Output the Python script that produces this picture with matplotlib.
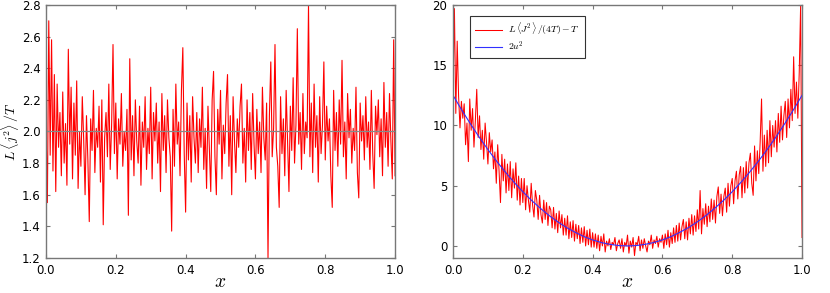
import matplotlib.pyplot as plt
import numpy as np

plt.rcParams["mathtext.fontset"] = "cm"

# left panel: L<j^2>/T sampled on an even grid in x
left_vals = [
    2.05, 1.55, 2.70, 1.85, 2.58, 1.75, 2.36, 1.62, 2.30, 1.90,
    2.12, 1.72, 2.25, 1.80, 2.05, 1.66, 2.52, 1.92, 2.28, 1.70,
    2.18, 1.85, 2.32, 1.64, 2.00, 1.78, 2.22, 1.95, 1.60, 2.10,
    1.82, 1.43, 2.08, 1.88, 2.26, 1.74, 2.02, 1.90, 2.16, 1.68,
    2.20, 1.41, 1.96, 2.12, 1.84, 2.30, 1.76, 2.04, 2.55, 1.86,
    2.18, 1.70, 2.08, 1.92, 2.24, 1.78, 2.00, 1.88, 2.14, 1.47,
    2.46, 1.82, 2.10, 1.72, 2.20, 1.94, 1.80, 2.16, 1.66, 2.06,
    1.90, 2.22, 1.76, 2.02, 1.86, 2.28, 1.70, 2.12, 1.94, 2.18,
    1.80, 2.06, 1.62, 2.24, 1.88, 2.10, 1.74, 2.20, 1.96, 1.84,
    1.37, 2.14, 1.78, 2.30, 1.92, 2.06, 1.72, 2.26, 2.53, 1.86,
    1.49, 2.18, 1.82, 2.10, 1.68, 2.22, 1.96, 1.80, 2.12, 1.74,
    2.08, 1.90, 2.28, 1.76, 2.02, 1.64, 2.16, 1.88, 1.62, 2.20,
    2.38, 1.84, 1.60, 2.14, 1.92, 2.26, 1.70, 2.04, 1.86, 2.18,
    2.36, 1.78, 2.10, 1.60, 2.22, 1.94, 1.74, 2.08, 1.90, 2.16,
    2.30, 1.80, 2.02, 1.68, 2.20, 1.88, 2.12, 1.76, 2.24, 1.92,
    1.70, 2.14, 1.86, 2.06, 1.74, 2.28, 1.96, 1.82, 2.18, 1.20,
    2.10, 2.44, 1.84, 2.02, 2.55, 1.90, 1.78, 1.52, 2.22, 1.86,
    2.08, 1.72, 2.26, 1.94, 1.62, 2.16, 1.88, 2.34, 1.80, 2.04,
    2.65, 1.92, 2.12, 1.76, 2.24, 1.86, 2.06, 1.96, 2.80, 1.84,
    2.18, 1.74, 2.30, 1.90, 2.10, 1.68, 2.22, 1.86, 2.04, 2.44,
    1.82, 2.16, 1.94, 2.08, 1.72, 1.52, 2.26, 1.88, 2.12, 1.78,
    2.20, 1.92, 2.45, 1.84, 2.06, 1.70, 2.24, 1.96, 2.14, 1.80,
    2.02, 1.88, 2.28, 1.74, 1.58, 2.18, 1.94, 2.10, 1.82, 2.22,
    1.90, 2.06, 1.76, 2.26, 1.86, 1.64, 2.16, 1.98, 2.20, 1.84,
    2.08, 1.72, 2.31, 1.90, 2.12, 1.78, 2.24, 1.94, 1.70, 2.58,
    1.72,
]
left_ref = 2.0

# right panel: L<J^2>/(4T) - T on the same grid
right_vals = [
    13.0, 19.7, 11.0, 17.0, 12.4, 9.8, 12.0, 10.6, 11.8, 8.4,
    10.2, 7.0, 12.2, 9.6, 11.4, 8.2, 10.4, 13.0, 9.0, 10.8,
    8.0, 9.6, 7.2, 10.2, 8.6, 6.8, 9.4, 7.8, 8.8, 6.4,
    7.8, 5.2, 8.4, 6.2, 3.6, 7.6, 5.4, 7.2, 4.4, 6.8,
    4.6, 7.0, 4.0, 6.4, 4.8, 6.9, 3.8, 5.8, 3.4, 5.6,
    3.6, 5.6, 3.0, 5.0, 3.8, 2.8, 5.2, 3.4, 2.4, 4.6,
    3.8, 2.2, 4.2, 2.6, 1.9, 3.8, 2.2, 3.6, 1.7, 3.3,
    3.0, 1.5, 3.2, 1.4, 2.7, 1.1, 2.9, 1.5, 2.6, 0.9,
    2.3, 0.9, 2.5, 0.6, 2.0, 0.7, 2.1, 0.4, 1.8, 0.6,
    1.7, 0.2, 1.5, 0.3, 1.6, 0.0, 1.3, 0.1, 1.4, -0.1,
    1.1, -0.1, 1.0, -0.2, 0.9, -0.4, 0.8, 0.0, 1.0, -0.5,
    0.4, 0.0, 0.6, -0.3, 0.3, 0.1, 0.7, -0.4, 0.2, 0.5,
    -0.2, 0.6, -0.5, 0.3, 0.0, 0.9, -0.6, 0.4, -0.1, 0.7,
    -0.8, 0.3, 0.1, 0.8, -0.4, 0.5, -0.2, 0.6, 0.0, -0.5,
    0.4, 0.1, 0.9, -0.2, 0.5, 0.2, 0.8, -0.1, 0.6, 0.3,
    0.9, -0.2, 1.0, 0.1, 1.3, -0.1, 1.1, 0.2, 1.5, 0.3,
    1.7, 0.4, 1.9, 0.5, 1.6, 2.2, 0.6, 2.0, 0.5, 2.3,
    1.0, 2.6, 0.9, 2.5, 1.2, 3.0, 1.4, 4.6, 1.0, 3.1,
    1.8, 3.5, 1.6, 3.3, 2.0, 3.9, 2.2, 3.8, 1.9, 4.1,
    4.9, 2.7, 4.3, 2.5, 4.1, 4.8, 2.8, 5.2, 3.3, 5.0,
    5.6, 3.5, 5.4, 6.2, 3.9, 5.9, 6.6, 4.0, 6.5, 4.4,
    7.0, 4.8, 6.9, 7.7, 5.2, 4.2, 8.3, 5.4, 7.9, 6.0,
    8.6, 12.2, 6.2, 9.2, 6.6, 9.6, 6.9, 10.4, 7.4, 10.0,
    8.2, 10.4, 7.8, 11.0, 8.6, 11.6, 8.8, 10.8, 12.0, 9.0,
    12.2, 9.8, 13.0, 10.4, 15.7, 11.0, 13.6, 10.6, 14.4, 20.0,
    0.7,
]

# fitted curve 2u^2, read at x = 0, 0.025, ..., 1
curve_x = [0.0, 0.025, 0.05, 0.075, 0.1, 0.125, 0.15, 0.175, 0.2, 0.225,
           0.25, 0.275, 0.3, 0.325, 0.35, 0.375, 0.4, 0.425, 0.45, 0.475,
           0.5, 0.525, 0.55, 0.575, 0.6, 0.625, 0.65, 0.675, 0.7, 0.725,
           0.75, 0.775, 0.8, 0.825, 0.85, 0.875, 0.9, 0.925, 0.95, 0.975, 1.0]
curve_y = [12.5, 11.28, 10.13, 9.03, 8.0, 7.03, 6.13, 5.28, 4.5, 3.78,
           3.13, 2.53, 2.0, 1.53, 1.13, 0.78, 0.5, 0.28, 0.13, 0.03,
           0.0, 0.03, 0.13, 0.28, 0.5, 0.78, 1.13, 1.53, 2.0, 2.53,
           3.13, 3.78, 4.5, 5.28, 6.13, 7.03, 8.0, 9.03, 10.13, 11.28, 12.5]

x_grid = np.linspace(0.0, 1.0, len(left_vals))

fig = plt.figure(figsize=(8.3, 2.93), dpi=100)
ax1 = fig.add_axes([0.0554, 0.1195, 0.4206, 0.8635])
ax2 = fig.add_axes([0.5458, 0.1195, 0.4205, 0.8635])

for ax in (ax1, ax2):
    for sp in ax.spines.values():
        sp.set_color("#777777")
        sp.set_linewidth(1.0)
    ax.tick_params(direction="in", top=True, right=True, labelsize=8.5,
                   color="#777777", length=3, pad=4)
    ax.set_xlim(0, 1)
    ax.set_xticks([0.0, 0.2, 0.4, 0.6, 0.8, 1.0])
    ax.set_xticklabels(["0.0", "0.2", "0.4", "0.6", "0.8", "1.0"])
    ax.set_xlabel("$x$", fontsize=14, labelpad=-3)

ax1.plot(x_grid, left_vals, color="#ff0000", lw=0.8)
ax1.axhline(left_ref, color="#888888", lw=0.9)
ax1.set_ylim(1.2, 2.8)
ax1.set_yticks(np.arange(1.2, 2.81, 0.2))
ax1.set_yticklabels([f"{v:.1f}" for v in np.arange(1.2, 2.81, 0.2)])
ax1.set_ylabel(r"$L\,\langle j^2\rangle\,/T$", fontsize=10)
ax1.yaxis.set_label_coords(-0.071, 0.5)

ax2.plot(x_grid, right_vals, color="#ff0000", lw=0.75,
         label=r"$L\,\langle J^2\rangle\,/(4T)-T$")
ax2.plot(curve_x, curve_y, color="#3030ff", lw=0.8, label=r"$2u^2$")
ax2.set_ylim(-1, 20)
ax2.set_yticks([0, 5, 10, 15, 20])
leg = ax2.legend(loc="upper left", bbox_to_anchor=(0.035, 0.975), fontsize=7,
                 frameon=True, fancybox=False, handlelength=2.8,
                 borderpad=0.5, labelspacing=0.25, handletextpad=0.6)
leg.get_frame().set_edgecolor("black")
leg.get_frame().set_linewidth(0.8)

fig.savefig("out.png", dpi=100)
